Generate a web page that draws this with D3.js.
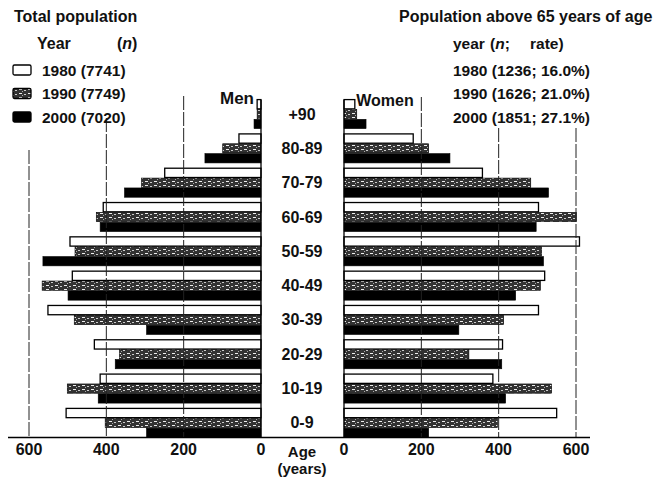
<!DOCTYPE html>
<meta charset="utf-8">
<script src="https://d3js.org/d3.v7.js"></script>
<style>
  body { margin: 0; background: #fff; }
  text { font-family: "Liberation Sans", Arial, sans-serif; font-weight: bold; fill: #111; }
</style>
<svg id="chart" width="663" height="482"></svg>
<script>
    // data, top (oldest) to bottom
    var ageGroups = ["+90", "80-89", "70-79", "60-69", "50-59", "40-49", "30-39", "20-29", "10-19", "0-9"];
    var years = ["1980", "1990", "2000"];
    var men1980 = [10, 57, 249, 408, 494, 488, 551, 431, 416, 504];
    var men1990 = [10, 99, 309, 426, 481, 566, 483, 366, 501, 403];
    var men2000 = [18, 145, 353, 416, 564, 499, 296, 377, 421, 296];
    var women1980 = [28, 179, 358, 503, 609, 519, 503, 410, 385, 550];
    var women1990 = [33, 219, 483, 601, 511, 508, 413, 323, 537, 397];
    var women2000 = [57, 274, 529, 497, 516, 444, 297, 408, 418, 219];
    var ticks = [0, 200, 400, 600];
    var totalLegend = ["1980 (7741)", "1990 (7749)", "2000 (7020)"];
    var oldLegend = ["1980 (1236; 16.0%)", "1990 (1626; 21.0%)", "2000 (1851; 27.1%)"];

    var svg = d3.select("#chart");

    // fills
    var defs = svg.append("defs");
    var pat = defs.append("pattern").attr("id", "speck")
        .attr("width", 9).attr("height", 4).attr("patternUnits", "userSpaceOnUse");
    pat.append("rect").attr("width", 9).attr("height", 4).attr("fill", "#333");
    pat.append("rect").attr("x", 1).attr("y", 1).attr("width", 3).attr("height", 1).attr("fill", "#eee");
    pat.append("rect").attr("x", 6).attr("y", 2).attr("width", 2).attr("height", 1).attr("fill", "#ccc");
    pat.append("rect").attr("x", 4).attr("y", 3).attr("width", 1).attr("height", 1).attr("fill", "#aaa");
    var fills = { "1980": "#fff", "1990": "url(#speck)", "2000": "#000" };

    // scales
    var xL = d3.scaleLinear().domain([0, 600]).range([261, 29]);
    var xR = d3.scaleLinear().domain([0, 600]).range([344, 576]);
    var y = d3.scaleBand().domain(ageGroups).range([99, 438]).paddingInner(0.12).paddingOuter(0);
    var ys = d3.scaleBand().domain(years).range([0, y.bandwidth()]).padding(0.06);

    var rows = ageGroups.map(function (a, i) {
        return {
            age: a,
            men: { "1980": men1980[i], "1990": men1990[i], "2000": men2000[i] },
            women: { "1980": women1980[i], "1990": women1990[i], "2000": women2000[i] }
        };
    });

    function drawSide(key, x) {
        var g = svg.append("g");
        rows.forEach(function (r) {
            years.forEach(function (yr) {
                var v = r[key][yr];
                g.append("rect")
                    .attr("x", Math.min(x(0), x(v)))
                    .attr("y", y(r.age) + ys(yr))
                    .attr("width", Math.abs(x(v) - x(0)))
                    .attr("height", ys.bandwidth())
                    .attr("fill", fills[yr])
                    .attr("stroke", "#000")
                    .attr("stroke-width", yr == "1980" ? 1.3 : 0.6);
            });
        });
    }
    drawSide("men", xL);
    drawSide("women", xR);

    // grid lines (cut short under the text blocks)
    var gridTopL = { 200: 96, 400: 118, 600: 150 };
    var gridTopR = { 200: 97, 400: 128, 600: 128 };
    ticks.slice(1).forEach(function (t) {
        svg.append("line").attr("x1", xL(t)).attr("x2", xL(t))
            .attr("y1", gridTopL[t]).attr("y2", 437)
            .attr("stroke", "#222").attr("stroke-dasharray", "14,2");
        svg.append("line").attr("x1", xR(t)).attr("x2", xR(t))
            .attr("y1", gridTopR[t]).attr("y2", 437)
            .attr("stroke", "#222").attr("stroke-dasharray", "14,2");
    });
    // zero lines
    [xL(0), xR(0)].forEach(function (x0) {
        svg.append("line").attr("x1", x0).attr("x2", x0).attr("y1", 100).attr("y2", 437)
            .attr("stroke", "#000").attr("stroke-width", 1.3);
    });
    // baseline
    svg.append("line").attr("x1", 8).attr("x2", 590).attr("y1", 437.5).attr("y2", 437.5)
        .attr("stroke", "#000").attr("stroke-width", 1.5);

    // tick labels
    ticks.forEach(function (t) {
        svg.append("text").attr("x", xL(t)).attr("y", 455).attr("text-anchor", "middle")
            .style("font-size", "16px").text(t);
        svg.append("text").attr("x", xR(t)).attr("y", 455).attr("text-anchor", "middle")
            .style("font-size", "16px").text(t);
    });

    // age labels
    svg.append("g").selectAll("text").data(ageGroups).enter().append("text")
        .attr("x", 302).attr("y", function (d) { return y(d) + y.bandwidth() / 2 + 5.5; })
        .attr("text-anchor", "middle").style("font-size", "16px")
        .text(function (d) { return d; });
    svg.append("text").attr("x", 302).attr("y", 457).attr("text-anchor", "middle")
        .style("font-size", "15px").text("Age");
    svg.append("text").attr("x", 302).attr("y", 474).attr("text-anchor", "middle")
        .style("font-size", "15px").text("(years)");

    // side titles
    svg.append("text").attr("x", 237).attr("y", 104).attr("text-anchor", "middle")
        .style("font-size", "17px").text("Men");
    svg.append("text").attr("x", 385).attr("y", 106).attr("text-anchor", "middle")
        .style("font-size", "16px").text("Women");

    // left legend
    svg.append("text").attr("x", 14).attr("y", 22).style("font-size", "16px").text("Total population");
    svg.append("text").attr("x", 37).attr("y", 49).style("font-size", "16px").text("Year");
    var nt = svg.append("text").attr("x", 117).attr("y", 49).style("font-size", "16px");
    nt.append("tspan").text("(");
    nt.append("tspan").style("font-style", "italic").text("n");
    nt.append("tspan").text(")");
    years.forEach(function (yr, i) {
        var cy = 70 + i * 23.5;
        svg.append("rect").attr("x", 13).attr("y", cy - 5).attr("width", 18).attr("height", 10)
            .attr("rx", 1.5).attr("fill", fills[yr]).attr("stroke", "#000").attr("stroke-width", 1.3);
        svg.append("text").attr("x", 42).attr("y", cy + 5.5).style("font-size", "15.5px").text(totalLegend[i]);
    });

    // right legend
    svg.append("text").attr("x", 399).attr("y", 22).style("font-size", "16px")
        .text("Population above 65 years of age");
    var hd = svg.append("text").attr("y", 49).style("font-size", "15.5px");
    hd.append("tspan").attr("x", 453).text("year");
    hd.append("tspan").attr("x", 490).text("(");
    hd.append("tspan").style("font-style", "italic").text("n");
    hd.append("tspan").text(";");
    hd.append("tspan").attr("x", 530).text("rate)");
    oldLegend.forEach(function (s, i) {
        svg.append("text").attr("x", 453).attr("y", 75.5 + i * 23.5).style("font-size", "15.5px").text(s);
    });
</script>
